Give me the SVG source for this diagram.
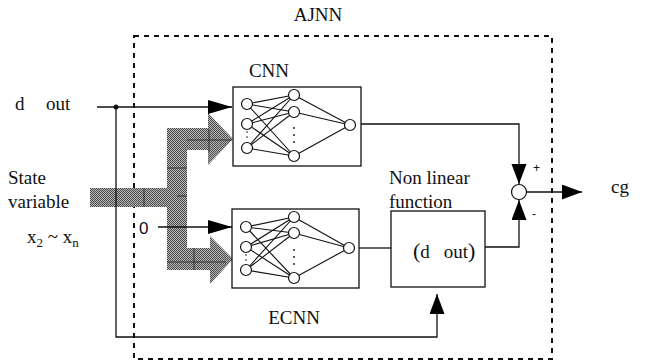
<svg xmlns="http://www.w3.org/2000/svg" width="650" height="364" viewBox="0 0 650 364">
  <defs>
    <pattern id="stipple" width="2" height="2" patternUnits="userSpaceOnUse">
      <rect width="2" height="2" fill="#b8b8b8"/>
      <rect width="1" height="1" fill="#4a4a4a"/>
      <rect x="1" y="1" width="1" height="1" fill="#4a4a4a"/>
    </pattern>
    <marker id="ah" markerUnits="userSpaceOnUse" markerWidth="26" markerHeight="16" refX="24" refY="7" orient="auto">
      <path d="M0,0 L24,7 L0,14 Z" fill="#000"/>
    </marker>
    <marker id="ahv" markerUnits="userSpaceOnUse" markerWidth="22" markerHeight="16" refX="20" refY="7.5" orient="auto">
      <path d="M0,0 L20,7.5 L0,15 Z" fill="#000"/>
    </marker>
  </defs>
  <style>
    .t { font-family: "Liberation Serif", "Times New Roman", serif; font-size: 19px; fill: #111; }
    .s { font-family: "Liberation Sans", Arial, sans-serif; font-size: 17px; fill: #111; }
    .pm { font-family: "Liberation Sans", Arial, sans-serif; font-size: 12px; fill: #111; }
    .sub { font-size: 13px; }
    .box { fill: #fff; stroke: #111; stroke-width: 1.3; }
    .ln { fill: none; stroke: #111; stroke-width: 1.3; }
    .nd { fill: #fff; stroke: #111; stroke-width: 1.2; }
    .ed { stroke: #111; stroke-width: 1.1; }
    .dash { fill: none; stroke: #111; stroke-width: 2; stroke-dasharray: 5 5; }
    .tex { stroke: #333; stroke-width: 1; }
  </style>

  <!-- AJNN enclosure -->
  <g id="ajnn">
    <rect class="dash" x="134" y="36" width="418" height="323"/>
    <text class="t" x="318" y="21" text-anchor="middle">AJNN</text>
  </g>

  <!-- state variable bus (shaded arrow) -->
  <g id="state-bus">
    <path d="M90,188 L167,188 L167,128 L208,128 L208,113 L233,139 L208,165 L208,150 L187,150 L187,248 L210,248 L210,236 L233,259 L210,284 L210,270 L167,270 L167,207 L90,207 Z" fill="url(#stipple)"/>
    <line class="tex" x1="144" y1="188" x2="144" y2="207"/>
    <line class="tex" x1="167" y1="168" x2="187" y2="168"/>
    <line class="tex" x1="177" y1="196" x2="187" y2="196"/>
    <line class="tex" x1="187" y1="140" x2="232" y2="140"/>
    <line class="tex" x1="209" y1="129" x2="209" y2="152"/>
    <line class="tex" x1="167" y1="262" x2="226" y2="262"/>
    <line class="tex" x1="194" y1="248" x2="194" y2="270"/>
    <text class="t" x="8" y="184">State</text>
    <text class="t" x="8" y="208">variable</text>
    <text class="t" x="27" y="243">x<tspan class="sub" dy="4">2</tspan><tspan dy="-4"> ~ x</tspan><tspan class="sub" dy="4">n</tspan></text>
  </g>

  <!-- CNN -->
  <g id="cnn">
    <text class="t" x="269" y="77" text-anchor="middle">CNN</text>
    <rect class="box" x="233" y="87" width="128" height="79"/>
    <g class="ed">
      <line x1="247" y1="104" x2="294" y2="95"/><line x1="247" y1="104" x2="294" y2="112"/><line x1="247" y1="104" x2="294" y2="156"/>
      <line x1="247" y1="124" x2="294" y2="95"/><line x1="247" y1="124" x2="294" y2="112"/><line x1="247" y1="124" x2="294" y2="156"/>
      <line x1="247" y1="148" x2="294" y2="95"/><line x1="247" y1="148" x2="294" y2="112"/><line x1="247" y1="148" x2="294" y2="156"/>
      <line x1="294" y1="95" x2="350" y2="125"/><line x1="294" y1="112" x2="350" y2="125"/><line x1="294" y1="156" x2="350" y2="125"/>
    </g>
    <circle class="nd" cx="247" cy="104" r="5.5"/><circle class="nd" cx="247" cy="124" r="5.5"/><circle class="nd" cx="247" cy="148" r="5.5"/>
    <circle class="nd" cx="294" cy="95" r="5.5"/><circle class="nd" cx="294" cy="112" r="5.5"/><circle class="nd" cx="294" cy="156" r="5.5"/>
    <circle class="nd" cx="350" cy="125" r="5.5"/>
    <g fill="#111"><circle cx="294" cy="128" r="0.9"/><circle cx="294" cy="135" r="0.9"/><circle cx="294" cy="142" r="0.9"/><circle cx="247" cy="132" r="0.8"/><circle cx="247" cy="137" r="0.8"/></g>
  </g>

  <!-- ECNN -->
  <g id="ecnn">
    <rect class="box" x="232" y="209" width="127" height="79"/>
    <g class="ed">
      <line x1="246" y1="227" x2="294" y2="217"/><line x1="246" y1="227" x2="294" y2="233"/><line x1="246" y1="227" x2="294" y2="278"/>
      <line x1="246" y1="247" x2="294" y2="217"/><line x1="246" y1="247" x2="294" y2="233"/><line x1="246" y1="247" x2="294" y2="278"/>
      <line x1="246" y1="270" x2="294" y2="217"/><line x1="246" y1="270" x2="294" y2="233"/><line x1="246" y1="270" x2="294" y2="278"/>
      <line x1="294" y1="217" x2="349" y2="248"/><line x1="294" y1="233" x2="349" y2="248"/><line x1="294" y1="278" x2="349" y2="248"/>
    </g>
    <circle class="nd" cx="246" cy="227" r="5.5"/><circle class="nd" cx="246" cy="247" r="5.5"/><circle class="nd" cx="246" cy="270" r="5.5"/>
    <circle class="nd" cx="294" cy="217" r="5.5"/><circle class="nd" cx="294" cy="233" r="5.5"/><circle class="nd" cx="294" cy="278" r="5.5"/>
    <circle class="nd" cx="349" cy="248" r="5.5"/>
    <g fill="#111"><circle cx="294" cy="250" r="0.9"/><circle cx="294" cy="257" r="0.9"/><circle cx="294" cy="264" r="0.9"/><circle cx="246" cy="255" r="0.8"/><circle cx="246" cy="260" r="0.8"/></g>
    <text class="t" x="294" y="324" text-anchor="middle">ECNN</text>
  </g>

  <!-- nonlinear function block -->
  <g id="nonlinear">
    <text class="t" x="389" y="184">Non linear</text>
    <text class="t" x="389" y="208">function</text>
    <rect class="box" x="391" y="211" width="94" height="76"/>
    <text class="t" x="413" y="258"><tspan style="font-size:22px">(</tspan>d<tspan dx="14">out</tspan><tspan style="font-size:22px">)</tspan></text>
  </g>

  <!-- summing junction -->
  <g id="sum">
    <circle class="nd" cx="519" cy="192" r="7.5"/>
    <text class="pm" x="533" y="172">+</text>
    <text class="pm" x="532" y="218">-</text>
  </g>

  <!-- output label -->
  <g id="output">
    <text class="t" x="611" y="193">cg</text>
  </g>

  <!-- inputs -->
  <g id="inputs">
    <text class="t" x="15" y="110">d</text>
    <text class="t" x="46" y="110">out</text>
    <text class="s" x="139" y="234">0</text>
  </g>

  <g id="connectors">
    <line class="ln" x1="97" y1="107" x2="232" y2="107" marker-end="url(#ah)"/>
    <circle cx="116" cy="107" r="2.5" fill="#111"/>
    <path class="ln" d="M116,107 V337 H437 V294" stroke="#444" stroke-width="1.5" marker-end="url(#ahv)"/>
    <line class="ln" x1="158" y1="227" x2="232" y2="227" marker-end="url(#ah)"/>
    <path class="ln" d="M361,124 H519 V184" marker-end="url(#ahv)"/>
    <line class="ln" x1="359" y1="248" x2="391" y2="248"/>
    <path class="ln" d="M485,247 H519 V200" marker-end="url(#ahv)"/>
    <line class="ln" x1="527" y1="192" x2="582" y2="192" marker-end="url(#ahv)"/>
  </g>
</svg>
